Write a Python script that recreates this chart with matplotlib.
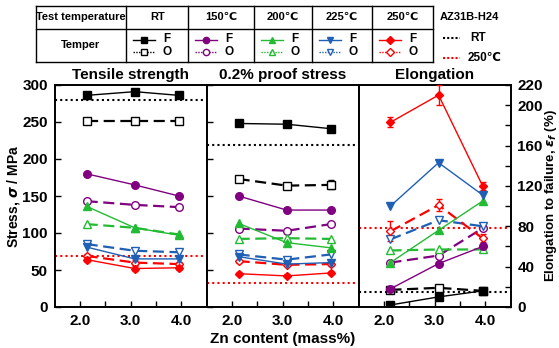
import matplotlib.pyplot as plt
import numpy as np

plt.rcParams['font.family'] = ['Liberation Sans', 'DejaVu Sans']
plt.rcParams['font.weight'] = 'bold'
plt.rcParams['mathtext.fontset'] = 'dejavusans'

# data
temps = ['RT', '150℃', '200℃', '225℃', '250℃']
colors = ['black', '#800080', '#22bb33', '#1f5fb4', '#ff0000']
markers = ['s', 'o', '^', 'v', 'D']
zn = [2.13, 3.08, 3.95]

# tensile strength (MPa), rows = temps
ts_F = [[286, 291, 286], [180, 165, 150], [136, 107, 97], [81, 65, 65], [64, 52, 53]]
ts_O = [[252, 252, 252], [143, 138, 135], [112, 107, 98], [85, 76, 74], [69, 60, 58]]
ts_O_err = [[3, 3, 3], [2, 2, 2], [0, 0, 0], [0, 0, 0], [3, 3, 3]]
ts_F_err = [[2, 2, 2], [0, 0, 0], [0, 0, 0], [0, 0, 0], [3, 3, 3]]
ts_ref = [280, 69]  # AZ31B-H24 at RT, 250C

# 0.2% proof stress (MPa)
ps_F = [[248, 247, 241], [150, 131, 131], [113, 87, 80], [68, 58, 60], [45, 42, 46]]
ps_O = [[173, 164, 165], [106, 103, 112], [92, 93, 92], [71, 64, 71], [62, 57, 58]]
ps_O_err = [[3, 3, 6], [0, 0, 0], [0, 0, 0], [0, 0, 0], [2, 2, 2]]
ps_F_err = [[0, 0, 0], [0, 0, 0], [0, 0, 0], [0, 0, 0], [2, 2, 2]]
ps_ref = [219, 33]

# elongation to failure (%)
el_F = [[2, 10, 16], [18, 43, 60], [44, 76, 105], [100, 143, 111], [183, 210, 120]]
el_O = [[17, 19, 16], [44, 51, 78], [56, 57, 57], [67, 86, 80], [75, 101, 68]]
el_F_err = [[0, 0, 0], [0, 0, 0], [0, 0, 0], [0, 0, 0], [5, 10, 4]]
el_O_err = [[0, 0, 0], [0, 0, 0], [0, 0, 0], [0, 0, 0], [10, 6, 4]]
el_ref = [15, 78]

W, H = 559, 348
fig = plt.figure(figsize=(W / 100, H / 100), dpi=100)

def px_axes(x0, x1, y0, y1):
    return fig.add_axes([x0 / W, 1 - y1 / H, (x1 - x0) / W, (y1 - y0) / H])

ax1 = px_axes(54.7, 206.7, 85, 307)
ax2 = px_axes(206.7, 358.5, 85, 307)
ax3 = px_axes(358.5, 510.5, 85, 307)

panels = [
    (ax1, ts_F, ts_O, ts_F_err, ts_O_err, ts_ref, 300),
    (ax2, ps_F, ps_O, ps_F_err, ps_O_err, ps_ref, 300),
    (ax3, el_F, el_O, el_F_err, el_O_err, el_ref, 220),
]

for ax, yF, yO, eF, eO, ref, ymax in panels:
    ax.axhline(ref[0], color='black', ls=(0, (1, 1.5)), lw=1.5, zorder=1)
    ax.axhline(ref[1], color='red', ls=(0, (1, 1.5)), lw=1.5, zorder=1)
    for i in range(len(temps)):
        c = colors[i]
        m = markers[i]
        ms = 4.5 if m == 'D' else 5.5
        ax.errorbar(zn, yO[i], yerr=eO[i] if any(eO[i]) else None, color=c,
                    ls=(0, (5, 2.5)), lw=1.6, marker=m, ms=ms, mfc='white',
                    mec=c, mew=1, capsize=2.5, elinewidth=1, zorder=3)
        ax.errorbar(zn, yF[i], yerr=eF[i] if any(eF[i]) else None, color=c,
                    ls='-', lw=1, marker=m, ms=ms, mfc=c, mec=c,
                    capsize=2.5, elinewidth=1, zorder=4)
    ax.set_xlim(1.5, 4.5)
    ax.set_ylim(0, ymax)
    ax.set_xticks([2, 2.5, 3, 3.5, 4])
    ax.set_xticklabels(['2.0', '', '3.0', '', '4.0'], fontsize=11, fontweight='bold')
    ax.tick_params(direction='in', length=4, width=1, pad=5)
    for s in ax.spines.values():
        s.set_linewidth(1.4)

ax1.set_yticks(range(0, 301, 50))
ax1.set_yticklabels([str(v) for v in range(0, 301, 50)], fontsize=11, fontweight='bold')
ax1.set_ylabel(r'Stress, $\sigma$ / MPa', fontsize=10, fontweight='bold')
ax1.yaxis.set_label_coords((22 - 54.7) / 152, 0.5)

ax2.set_yticks(range(0, 301, 50))
ax2.set_yticklabels([])

ax3.yaxis.tick_right()
ax3.yaxis.set_label_position('right')
el_ticks = [0, 40, 80, 120, 160, 200, 220]
ax3.set_yticks(el_ticks)
ax3.set_yticklabels([str(v) for v in el_ticks], fontsize=11, fontweight='bold')
ax3.set_yticks([20, 60, 100, 140, 180], minor=True)
ax3.tick_params(axis='y', which='both', direction='in', length=4, width=1)
ax3.set_ylabel(r'Elongation to failure, $\varepsilon_f$ (%)', fontsize=9.5,
               fontweight='bold')
ax3.yaxis.set_label_coords((543 - 358.5) / 152, 0.5)

titles = ['Tensile strength', '0.2% proof stress', 'Elongation']
for ax, t in zip([ax1, ax2, ax3], titles):
    ax.set_title(t, fontsize=11, fontweight='bold', pad=4)

fig.text(283 / W, 1 - 339 / H, 'Zn content (mass%)', ha='center', va='center',
         fontsize=11, fontweight='bold')

# header table drawn in pixel coordinates
ov = fig.add_axes([0, 0, 1, 1], zorder=-1)
ov.set_xlim(0, W)
ov.set_ylim(H, 0)
ov.axis('off')
cols = [35.7, 126, 188.3, 254, 312.3, 371.7, 433.3]
rows = [5.7, 29.3, 62]
for x in cols:
    ov.plot([x, x], [rows[0], rows[-1]], color='black', lw=1)
for y in rows:
    ov.plot([cols[0], cols[-1]], [y, y], color='black', lw=1)
ov.text((cols[0] + cols[1]) / 2, 17.5, 'Test temperature', ha='center', va='center', fontsize=8)
ov.text((cols[0] + cols[1]) / 2, 45.5, 'Temper', ha='center', va='center', fontsize=8)
for i, t in enumerate(temps):
    c0, c1 = cols[i + 1], cols[i + 2]
    ov.text((c0 + c1) / 2, 17.5, t, ha='center', va='center', fontsize=8)
    c = colors[i]
    ov.plot([c0 + 7, c0 + 29], [39.5, 39.5], color=c, lw=1)
    ov.plot([c0 + 18], [39.5], marker=markers[i], color=c, ms=4.5)
    ov.plot([c0 + 7, c0 + 29], [51.5, 51.5], color=c, lw=1, ls=(0, (1, 1)))
    ov.plot([c0 + 18], [51.5], marker=markers[i], color=c, mfc='white', ms=4.5)
    ov.text(c0 + 41, 39.5, 'F', ha='center', va='center', fontsize=8.5)
    ov.text(c0 + 41, 52, 'O', ha='center', va='center', fontsize=8.5)

ov.text(440, 17, 'AZ31B-H24', ha='left', va='center', fontsize=8)
ov.plot([443, 460], [38, 38], color='black', lw=1.5, ls=(0, (1, 1)))
ov.text(470, 38, 'RT', ha='left', va='center', fontsize=8.5)
ov.plot([443, 460], [58, 58], color='red', lw=1.5, ls=(0, (1, 1)))
ov.text(468, 58, '250℃', ha='left', va='center', fontsize=8.5)

fig.savefig('out.png', dpi=100)
